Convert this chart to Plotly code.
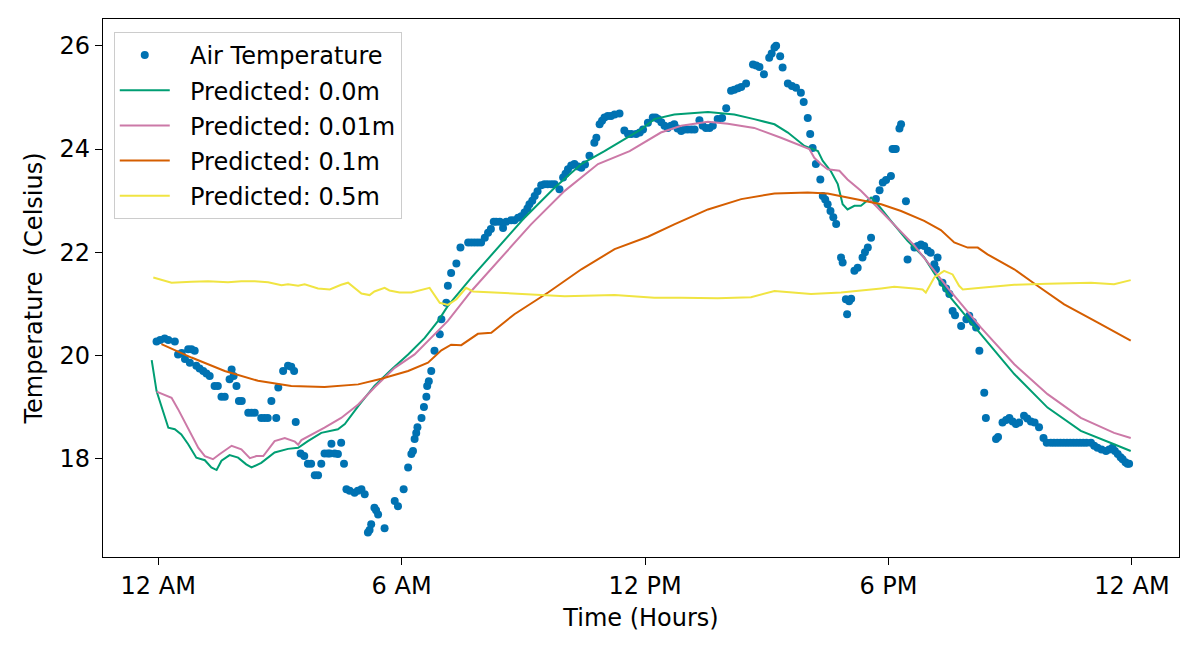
import plotly.graph_objects as go

# time of day in hours (0 = midnight) and readings taken off the plot
air_hours = [-0.04, 0.05, 0.16, 0.25, 0.41, 0.49, 0.58, 0.66, 0.74, 0.78, 0.82, 0.90, 0.94, 1.02, 1.11, 1.19,
             1.27, 1.39, 1.47, 1.56, 1.64, 1.76, 1.81, 1.86, 1.93, 1.99, 2.06, 2.22, 2.30, 2.38, 2.54, 2.62,
             2.70, 2.79, 2.91, 2.96, 3.08, 3.20, 3.28, 3.35, 3.39, 3.51, 3.60, 3.69, 3.77, 3.86, 3.94, 4.02,
             4.10, 4.18, 4.23, 4.27, 4.35, 4.43, 4.51, 4.58, 4.64, 4.72, 4.84, 4.92, 5.01, 5.09, 5.17, 5.21,
             5.25, 5.33, 5.37, 5.42, 5.58, 5.83, 5.91, 6.05, 6.16, 6.24, 6.28, 6.32, 6.36, 6.39, 6.49, 6.55,
             6.61, 6.63, 6.67, 6.73, 6.81, 6.94, 6.98, 7.10, 7.14, 7.22, 7.35, 7.45, 7.64, 7.72, 7.80, 7.88,
             7.96, 8.05, 8.13, 8.20, 8.27, 8.33, 8.42, 8.50, 8.58, 8.70, 8.78, 8.87, 8.95, 9.03, 9.10, 9.15,
             9.22, 9.28, 9.35, 9.44, 9.52, 9.60, 9.69, 9.77, 9.89, 9.98, 10.04, 10.10, 10.18, 10.26, 10.35, 10.43,
             10.52, 10.63, 10.75, 10.80, 10.88, 10.94, 11.00, 11.08, 11.16, 11.25, 11.37, 11.49, 11.58, 11.66,
             11.78, 11.87, 11.95, 12.07, 12.19, 12.26, 12.32, 12.40, 12.48, 12.56, 12.64, 12.72, 12.80, 12.89,
             12.97, 13.05, 13.14, 13.22, 13.34, 13.42, 13.50, 13.59, 13.67, 13.79, 13.90, 14.00, 14.12, 14.20,
             14.29, 14.37, 14.49, 14.66, 14.74, 14.82, 14.93, 15.06, 15.12, 15.19, 15.23, 15.33, 15.39, 15.52,
             15.62, 15.72, 15.84, 15.91, 16.01, 16.07, 16.13, 16.21, 16.32, 16.38, 16.44, 16.50, 16.57, 16.64,
             16.71, 16.83, 16.87, 16.95, 16.98, 17.03, 17.08, 17.16, 17.24, 17.36, 17.42, 17.49, 17.57, 17.69,
             17.78, 17.86, 17.94, 18.06, 18.10, 18.14, 18.18, 18.27, 18.31, 18.43, 18.47, 18.64, 18.72, 18.80,
             18.88, 18.97, 19.04, 19.13, 19.17, 19.21, 19.33, 19.42, 19.50, 19.58, 19.64, 19.79, 19.92, 19.99,
             20.08, 20.16, 20.24, 20.36, 20.40, 20.65, 20.70, 20.81, 20.90, 20.98, 21.06, 21.14, 21.22, 21.34,
             21.42, 21.51, 21.60, 21.71, 21.82, 21.90, 22.00, 22.08, 22.16, 22.24, 22.32, 22.40, 22.48, 22.56,
             22.64, 22.72, 22.80, 22.88, 22.99, 23.07, 23.15, 23.25, 23.36, 23.44, 23.52, 23.58, 23.65, 23.72,
             23.77, 23.84, 23.89, 23.93]
air_temp = [20.27, 20.30, 20.33, 20.30, 20.27, 20.02, 20.05, 19.93, 20.12, 19.86, 20.12, 20.09, 19.80, 19.75, 19.70, 19.65,
            19.60, 19.41, 19.41, 19.20, 19.20, 19.54, 19.73, 19.60, 19.41, 19.12, 19.12, 18.89, 18.89, 18.89, 18.79, 18.79,
            18.79, 19.12, 18.79, 19.38, 19.70, 19.80, 19.78, 19.70, 18.71, 18.10, 18.05, 17.90, 17.90, 17.68, 17.68, 17.90,
            18.10, 18.10, 18.10, 18.29, 18.10, 18.09, 18.31, 17.90, 17.41, 17.38, 17.34, 17.38, 17.41, 17.31, 16.57, 16.62,
            16.73, 17.05, 17.00, 16.92, 16.65, 17.18, 17.08, 17.41, 17.83, 18.09, 18.15, 18.38, 18.50, 18.61, 18.79, 19.00,
            19.20, 19.41, 19.50, 19.70, 20.09, 20.41, 20.70, 21.02, 21.35, 21.60, 21.78, 22.09, 22.19, 22.19, 22.19, 22.19,
            22.19, 22.28, 22.38, 22.45, 22.59, 22.59, 22.59, 22.47, 22.59, 22.62, 22.62, 22.67, 22.70, 22.77, 22.85, 22.93,
            23.00, 23.09, 23.18, 23.30, 23.32, 23.32, 23.32, 23.32, 23.22, 23.45, 23.52, 23.61, 23.68, 23.71, 23.66, 23.64,
            23.70, 23.87, 24.12, 24.22, 24.48, 24.55, 24.61, 24.64, 24.64, 24.67, 24.69, 24.36, 24.29, 24.29,
            24.29, 24.32, 24.38, 24.51, 24.61, 24.61, 24.58, 24.52, 24.45, 24.41, 24.45, 24.48, 24.40, 24.35,
            24.38, 24.38, 24.38, 24.38, 24.56, 24.45, 24.41, 24.41, 24.45, 24.58, 24.60, 24.79, 25.13, 25.15,
            25.18, 25.20, 25.27, 25.64, 25.62, 25.59, 25.45, 25.77, 25.85, 25.97, 26.00, 25.80, 25.58, 25.27,
            25.22, 25.19, 25.09, 24.91, 24.60, 24.29, 24.02, 23.71, 23.41, 23.09, 23.02, 22.93, 22.80, 22.68,
            22.55, 21.90, 21.80, 21.09, 20.80, 21.05, 21.10, 21.64, 21.70, 21.90, 22.00, 22.09, 22.28, 23.03,
            23.20, 23.35, 23.40, 23.48, 24.00, 24.00, 24.00, 24.40, 24.48, 22.99, 21.86, 22.09, 22.12, 22.15,
            22.12, 22.03, 21.99, 21.77, 21.67, 21.90, 21.41, 21.30, 21.19, 20.86, 20.78, 20.57, 20.70, 20.77,
            20.65, 20.54, 20.09, 19.28, 18.79, 18.38, 18.42, 18.70, 18.75, 18.79, 18.72, 18.67, 18.70, 18.83,
            18.78, 18.72, 18.70, 18.61, 18.40, 18.31, 18.31, 18.31, 18.31, 18.31, 18.31, 18.31, 18.31, 18.31,
            18.31, 18.31, 18.31, 18.31, 18.31, 18.25, 18.21, 18.18, 18.15, 18.18, 18.21, 18.15, 18.09, 18.03,
            17.99, 17.93, 17.90, 17.90]

# predicted, depth 0.0 m
p00_hours = [-0.16, -0.04, 0.25, 0.41, 0.57, 0.74, 0.94, 1.15, 1.31, 1.44, 1.56, 1.76, 1.97, 2.17, 2.30, 2.54,
             2.87, 3.20, 3.45, 3.69, 4.02, 4.43, 4.60, 4.93, 5.33, 5.75, 6.16, 6.57, 6.90, 7.14, 7.72, 8.37,
             9.03, 9.77, 10.43, 11.00, 11.50, 11.90, 12.23, 12.72, 13.55, 14.20, 14.69, 15.19, 15.52, 15.93,
             16.26, 16.38, 16.58, 16.75, 16.87, 16.99, 17.16, 17.32, 17.57, 17.73, 18.06, 18.47, 18.88, 19.46,
             20.28, 21.10, 21.92, 22.74, 23.56, 23.97]
p00_temp = [19.91, 19.31, 18.60, 18.57, 18.47, 18.28, 18.02, 17.97, 17.83, 17.78, 17.96, 18.07, 18.02, 17.89, 17.83, 17.92,
            18.12, 18.19, 18.21, 18.34, 18.50, 18.57, 18.67, 19.02, 19.41, 19.73, 20.02, 20.34, 20.67, 20.96, 21.51, 22.09,
            22.67, 23.25, 23.71, 23.96, 24.20, 24.38, 24.58, 24.67, 24.72, 24.67, 24.58, 24.48, 24.32, 24.06,
            23.96, 23.77, 23.57, 23.32, 22.93, 22.83, 22.90, 22.90, 23.06, 22.93, 22.61, 22.22, 21.90, 21.19,
            20.41, 19.64, 18.99, 18.54, 18.28, 18.15]

# predicted, depth 0.01 m
p001_hours = [-0.04, 0.33, 0.49, 0.74, 0.99, 1.15, 1.35, 1.52, 1.81, 2.05, 2.26, 2.42, 2.59, 2.87, 3.12, 3.37,
              3.45, 3.53, 4.10, 4.51, 4.93, 5.33, 5.83, 6.32, 6.73, 7.14, 7.72, 8.37, 9.19, 10.02, 10.84, 11.62,
              11.90, 12.39, 12.89, 13.55, 14.04, 14.69, 15.35, 15.84, 16.05, 16.17, 16.33, 16.50, 16.79, 16.99,
              17.32, 17.65, 18.14, 18.64, 19.46, 20.28, 21.10, 21.92, 22.74, 23.56, 23.97]
p001_temp = [19.30, 19.18, 18.96, 18.60, 18.21, 18.05, 17.99, 18.09, 18.25, 18.18, 18.01, 18.05, 18.05, 18.34, 18.40, 18.33,
             18.27, 18.36, 18.60, 18.79, 19.05, 19.38, 19.76, 20.02, 20.34, 20.67, 21.25, 21.83, 22.54, 23.19, 23.71, 23.96,
             24.09, 24.32, 24.45, 24.53, 24.49, 24.41, 24.22, 24.06, 24.00, 23.83, 23.71, 23.61, 23.58, 23.41,
             23.19, 22.93, 22.54, 22.13, 21.31, 20.54, 19.83, 19.25, 18.79, 18.50, 18.40]

# predicted, depth 0.1 m
p01_hours = [0.08, 0.82, 1.64, 2.46, 3.28, 4.10, 4.93, 5.50, 6.16, 6.65, 6.98, 7.22, 7.47, 7.88, 8.21, 8.78,
             9.61, 10.43, 11.25, 12.07, 12.72, 13.55, 14.37, 15.19, 16.01, 16.50, 16.99, 17.65, 17.82, 18.31,
             18.88, 19.29, 19.62, 19.95, 20.20, 20.44, 21.10, 21.67, 22.33, 23.15, 23.97]
p01_temp = [20.22, 19.96, 19.70, 19.51, 19.41, 19.39, 19.44, 19.55, 19.70, 19.86, 20.10, 20.21, 20.20, 20.42, 20.44, 20.80,
            21.22, 21.67, 22.06, 22.30, 22.54, 22.83, 23.03, 23.14, 23.16, 23.14, 23.06, 22.96, 22.93, 22.80,
            22.61, 22.43, 22.19, 22.09, 22.09, 21.96, 21.67, 21.35, 20.99, 20.64, 20.29]

# predicted, depth 0.5 m
p05_hours = [-0.12, 0.33, 0.82, 1.23, 1.72, 2.05, 2.38, 2.71, 3.04, 3.20, 3.45, 3.61, 3.94, 4.23, 4.51, 4.68,
             5.01, 5.21, 5.33, 5.58, 5.70, 5.95, 6.24, 6.69, 6.94, 7.14, 7.35, 7.59, 7.76, 8.78, 10.02, 11.25,
             12.23, 12.89, 13.79, 14.61, 15.19, 16.09, 16.83, 17.82, 18.14, 18.64, 18.84, 18.92, 19.13, 19.37,
             19.58, 19.74, 19.83, 20.28, 21.10, 21.92, 22.99, 23.56, 23.97]
p05_temp = [21.51, 21.41, 21.43, 21.44, 21.42, 21.44, 21.44, 21.42, 21.36, 21.38, 21.35, 21.38, 21.30, 21.28, 21.37, 21.41,
            21.20, 21.17, 21.24, 21.31, 21.26, 21.22, 21.22, 21.31, 21.02, 20.98, 21.09, 21.31, 21.24, 21.20, 21.15, 21.17,
            21.12, 21.12, 21.11, 21.13, 21.25, 21.19, 21.22, 21.30, 21.33, 21.30, 21.28, 21.22, 21.51, 21.64,
            21.57, 21.35, 21.28, 21.31, 21.37, 21.39, 21.41, 21.38, 21.46]

tick_hours = [0, 6, 12, 18, 24]
tick_labels = ["12 AM", "6 AM", "12 PM", "6 PM", "12 AM"]

font = "DejaVu Sans, Liberation Sans, sans-serif"
fsize = 24
pad = "\u00a0\u00a0"  # gap between legend symbol and label

fig = go.Figure()
fig.add_trace(go.Scatter(x=air_hours, y=air_temp, mode="markers", name=pad + "Air Temperature",
                         legendgroup="air",
                         marker=dict(color="#0072B2", size=8, line=dict(width=0))))
for hrs, tmp, name, col in [(p00_hours, p00_temp, "Predicted: 0.0m", "#009E73"),
                            (p001_hours, p001_temp, "Predicted: 0.01m", "#CC79A7"),
                            (p01_hours, p01_temp, "Predicted: 0.1m", "#D55E00"),
                            (p05_hours, p05_temp, "Predicted: 0.5m", "#F0E442")]:
    fig.add_trace(go.Scatter(x=hrs, y=tmp, mode="lines", name=pad + name, legendgroup=name,
                             line=dict(color=col, width=2)))

axis_style = dict(showline=True, mirror=True, linecolor="black", linewidth=1.3,
                  ticks="outside", ticklen=7, tickwidth=1.3, tickcolor="black",
                  showgrid=False, zeroline=False,
                  tickfont=dict(family=font, size=fsize, color="black"))

fig.update_layout(
    width=1200, height=649,
    margin=dict(l=95, r=29, t=11, b=100),
    plot_bgcolor="white", paper_bgcolor="white",
    font=dict(family=font, size=fsize, color="black"),
    xaxis=dict(range=[-1.36, 25.16], tickvals=tick_hours, ticktext=tick_labels,
               title=dict(text="Time (Hours)", standoff=10,
                          font=dict(family=font, size=fsize)), **axis_style),
    yaxis=dict(range=[16.095, 26.52], tickvals=[18, 20, 22, 24, 26],
               title=dict(text="Temperature \u00a0(Celsius)", standoff=10,
                          font=dict(family=font, size=fsize)), **axis_style),
    legend=dict(x=0.01, y=0.976, xanchor="left", yanchor="top",
                bgcolor="rgba(255,255,255,0.8)", bordercolor="#cccccc", borderwidth=1,
                font=dict(family=font, size=fsize), tracegroupgap=1, itemwidth=50),
    showlegend=True,
)

fig.write_html("out.html")
